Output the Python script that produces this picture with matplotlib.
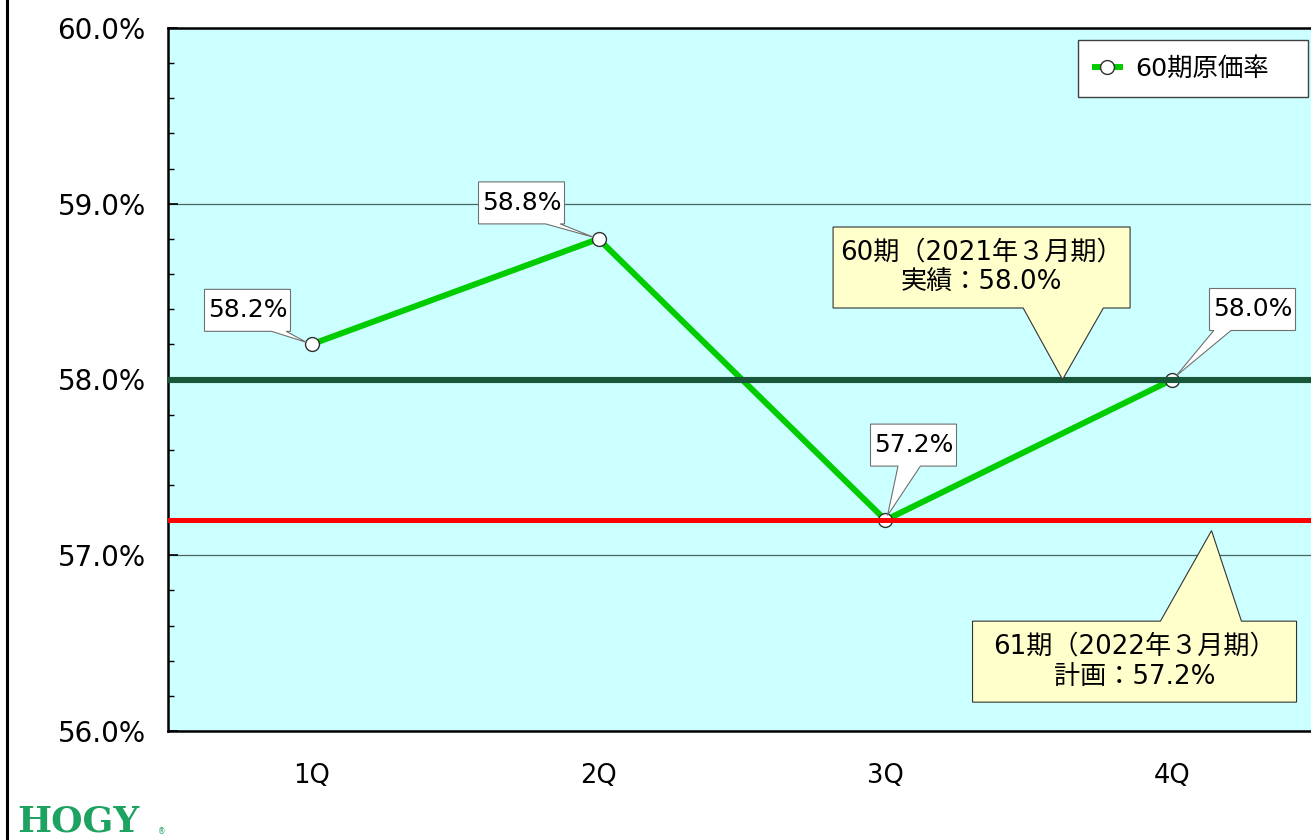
import matplotlib.pyplot as plt
from matplotlib.ticker import MultipleLocator, FuncFormatter
from matplotlib.lines import Line2D
from matplotlib.patches import Polygon
from matplotlib.transforms import IdentityTransform

# 60期 四半期別原価率
quarters = ['1Q', '2Q', '3Q', '4Q']
cost_rate = [58.2, 58.8, 57.2, 58.0]
series_name = '60期原価率'

# 実績・計画ライン
actual_60 = 58.0
plan_61 = 57.2
actual_text = '60期（2021年３月期）\n実績：58.0%'
plan_text = '61期（2022年３月期）\n計画：57.2%'

plt.rcParams['font.family'] = ['DejaVu Sans', 'Noto Sans CJK JP']

W, H = 1311, 840
fig = plt.figure(figsize=(W / 100, H / 100), dpi=100, facecolor='white')
ax = fig.add_axes([168 / W, 1 - 731 / H, (1316 - 168) / W, (731 - 28) / H], facecolor='#ccffff')

x = list(range(len(quarters)))
ax.plot(x, cost_rate, color='#00cc00', lw=4.3, marker='o', ms=10, mfc='white',
        mec='#303030', mew=1, zorder=3, label=series_name)
ax.axhline(actual_60, color='#18573a', lw=4.4, zorder=4)
ax.axhline(plan_61, color='#ff0000', lw=3.6, zorder=4)

ax.set_xlim(-0.5, 3.5)
ax.set_ylim(56, 60)
ax.set_xticks(x)
ax.set_xticklabels(quarters)
ax.yaxis.set_major_locator(MultipleLocator(1))
ax.yaxis.set_minor_locator(MultipleLocator(0.2))
ax.yaxis.set_major_formatter(FuncFormatter(lambda v, p: f'{v:.1f}%'))
ax.tick_params(axis='y', which='major', direction='in', length=7, width=1.2, labelsize=20, pad=16)
ax.tick_params(axis='y', which='minor', direction='in', length=4, width=1)
ax.tick_params(axis='x', length=0, labelsize=18.5, pad=23)
ax.yaxis.grid(True, which='major', color='#4a6464', lw=0.9)
ax.set_axisbelow(True)
for s in ['left', 'top', 'bottom']:
    ax.spines[s].set_linewidth(1.8)
    ax.spines[s].set_color('black')
ax.spines['right'].set_visible(False)


def callout(xy, text, center, size, base, fc, ec, fontsize, gap=0, **kw):
    # 吹き出し: 箱の中心は xy からのピクセルオフセット、base は三角の付け根（箱幅に対する割合）
    px, py = ax.transData.transform(xy)
    cx, cy = px + center[0], py + center[1]
    w, h = size
    l, r, b, t = cx - w / 2, cx + w / 2, cy - h / 2, cy + h / 2
    bx0, bx1 = l + base[0] * w, l + base[1] * w
    # 先端をマーカーの縁で止める
    mx, my = (bx0 + bx1) / 2, (b if cy > py else t)
    d = ((mx - px) ** 2 + (my - py) ** 2) ** 0.5
    tx, ty = px + (mx - px) * gap / d, py + (my - py) * gap / d
    if cy > py:
        verts = [(l, b), (bx0, b), (tx, ty), (bx1, b), (r, b), (r, t), (l, t)]
    else:
        verts = [(l, b), (r, b), (r, t), (bx1, t), (tx, ty), (bx0, t), (l, t)]
    ax.add_patch(Polygon(verts, closed=True, fc=fc, ec=ec, lw=0.8,
                         transform=IdentityTransform(), clip_on=False, zorder=6))
    ax.text(cx, cy, text, transform=IdentityTransform(), ha='center', va='center',
            fontsize=fontsize, zorder=7, **kw)


# データラベル
label_pos = [(-64, 34), (-77, 36), (28, 75), (80, 70)]
label_base = [(0.78, 0.95), (0.78, 0.95), (0.32, 0.58), (0.05, 0.25)]
for i, v in enumerate(cost_rate):
    callout((i, v), f'{v:.1f}%', label_pos[i], (86, 42), label_base[i],
            'white', '#707070', 18, gap=5)

# 実績・計画の吹き出し
callout((2.617, actual_60), actual_text, (-81, 112), (297, 81), (0.64, 0.91),
        '#ffffcc', '#333333', 18.8, linespacing=1.25)
callout((3.136, 57.14), plan_text, (-77, -131), (324, 81), (0.58, 0.83),
        '#ffffcc', '#333333', 18.8, linespacing=1.25)

leg = ax.legend(loc='upper left', bbox_to_anchor=(1078 / W, 1 - 100 / H, 230 / W, 60 / H),
                bbox_transform=fig.transFigure, mode='expand', borderaxespad=0,
                fancybox=False, framealpha=1, edgecolor='#404040', fontsize=18.3,
                handlelength=1.0, handletextpad=0.6, borderpad=0.65)
leg.get_frame().set_linewidth(1)
leg.set_zorder(8)

# 左端の縦線とロゴ
fig.add_artist(Line2D([7 / W, 7 / W], [0, 1], transform=fig.transFigure, color='black', lw=2.2))
fig.text(17 / W, 1 / H, 'HOGY', family='DejaVu Serif', weight='bold', fontsize=26,
         color='#1ea262', va='bottom', ha='left')
fig.text(158 / W, 4 / H, '®', fontsize=5.5, color='#1ea262', va='bottom', ha='left')

fig.savefig('out.png', dpi=100)
